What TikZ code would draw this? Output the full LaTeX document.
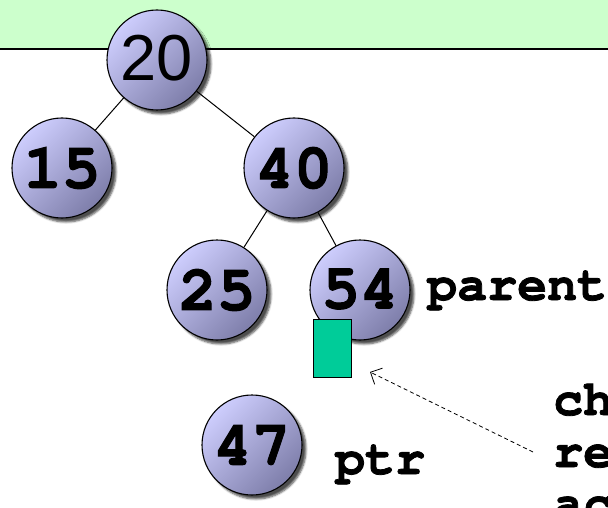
\documentclass[tikz,border=0pt]{standalone}
\usepackage{fontspec}
\setmainfont{Liberation Serif}
\setsansfont{Liberation Sans}
\setmonofont{texgyrecursor}[Extension=.otf, UprightFont=*-regular,
  BoldFont=*-bold, BoldFeatures={FakeBold=1.6}]
\usetikzlibrary{shadows.blur,arrows.meta}

\definecolor{bandgreen}{HTML}{CCFFCC}
\definecolor{nodetop}{HTML}{CDCDFD}
\definecolor{nodebot}{HTML}{7E7EAA}
\definecolor{slotgreen}{HTML}{00CC99}

\tikzset{
  keynode/.style={circle, draw=black, line width=1.1pt, minimum size=100pt,
    inner sep=0pt, top color=nodetop, bottom color=nodebot, shading angle=45,
    blur shadow={shadow xshift=4pt, shadow yshift=-4pt, shadow blur radius=2pt,
      shadow blur steps=5, shadow opacity=70},
    font=\ttfamily\bfseries\fontsize{64}{64}\selectfont},
  rootfont/.style={font=\sffamily\fontsize{65}{65}\selectfont},
  codelabel/.style={anchor=base west, inner sep=0pt,
    font=\ttfamily\bfseries\fontsize{50}{50}\selectfont},
  treeedge/.style={line width=1pt},
  slotbox/.style={rectangle, draw=black, line width=1pt, fill=slotgreen,
    minimum width=38pt, minimum height=58pt, inner sep=0pt},
  pointer/.style={dashed, dash pattern=on 4pt off 3pt, line width=0.8pt,
    -{Straight Barb[length=9pt,width=18pt,line width=0.8pt]}}
}

\begin{document}
\begin{tikzpicture}[x=1pt,y=-1pt]
  \clip (0,0) rectangle (608,508);

  % header band
  \fill[bandgreen] (0,0) rectangle (608,49);
  \draw[line width=1.6pt] (0,49) -- (608,49);

  % tree nodes
  \node[keynode, rootfont] (n20) at (157,60) {\raisebox{4pt}{20}};
  \node[keynode] (n15) at (62,168) {15};
  \node[keynode] (n40) at (294,168) {40};
  \node[keynode] (n25) at (217,290) {25};
  \node[keynode] (n54) at (360,290) {\raisebox{3pt}{54}};
  \node[keynode] (n47) at (252,445) {47};

  % links
  \draw[treeedge] (n20) -- (n15);
  \draw[treeedge] (n20) -- (n40);
  \draw[treeedge] (n40) -- (n25);
  \draw[treeedge] (n40) -- (n54);

  % empty child slot under 54
  \node[slotbox] (slot) at (332,348) {};

  % labels
  \node[codelabel] (lparent) at (427,300) {parent};
  \node[codelabel] (lptr) at (335,474) {ptr};
  \node[codelabel] (lch) at (553,415) {ch};
  \node[codelabel] (lre) at (553,467) {re};
  \node[codelabel] (lac) at (553,519) {ac};

  % pointer to the slot
  \coordinate (ptail) at (533,452);
  \coordinate (ptip) at (370,372);
  \draw[pointer] (ptail) -- (ptip);
\end{tikzpicture}
\end{document}
